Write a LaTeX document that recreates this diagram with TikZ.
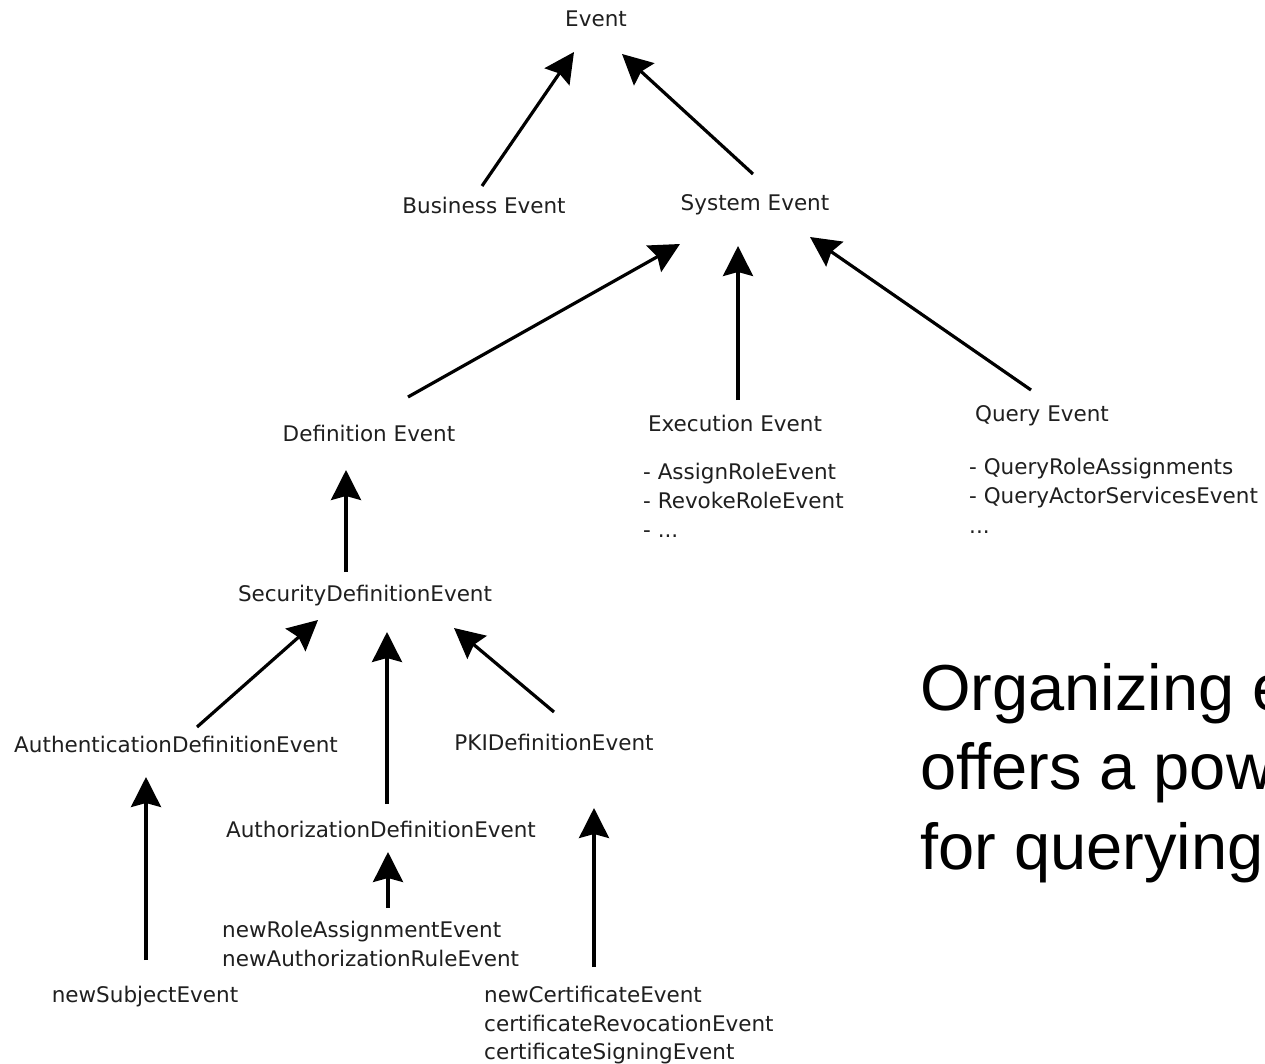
\documentclass[tikz,border=0pt]{standalone}
\usepackage{fontspec}
\setmainfont{DejaVu Sans}
\newfontfamily\diafont{DejaVu Sans}
\newfontfamily\notefont{Liberation Sans}
\usetikzlibrary{arrows.meta}

\begin{document}
\begin{tikzpicture}[x=1pt,y=-1pt,
  lbl/.style={inner sep=0pt, font=\diafont\fontsize{21.5}{29}\selectfont, text=black!88, anchor=base},
  lbll/.style={lbl, anchor=base west},
  note/.style={inner sep=0pt, anchor=base west, font=\notefont\fontsize{65}{80}\selectfont},
  isa/.style={line width=3.2pt, -{Stealth[length=30pt,width=30pt,inset=4pt]}}]
\fill[white] (0,0) rectangle (1265,1064);
\useasboundingbox (0,0) rectangle (1265,1064);

% class names
\node[lbl] (ev)    at (596,27)  {Event};
\node[lbl] (biz)   at (484,214) {Business Event};
\node[lbl] (sys)   at (755,211) {System Event};
\node[lbl] (def)   at (369,441.5) {Definition Event};
\node[lbl] (exe)   at (735,431) {Execution Event};
\node[lbl] (qry)   at (1042,421) {Query Event};
\node[lbl] (sec)   at (365,601) {SecurityDefinitionEvent};
\node[lbl] (authn) at (176,752) {AuthenticationDefinitionEvent};
\node[lbl] (pki)   at (554,750) {PKIDefinitionEvent};
\node[lbl] (authz) at (381,837) {AuthorizationDefinitionEvent};
\node[lbl] (nsub)  at (145,1002) {newSubjectEvent};

% member lists
\node[lbll] (exe1) at (643,479) {- AssignRoleEvent};
\node[lbll] (exe2) at (643,508) {- RevokeRoleEvent};
\node[lbll] (exe3) at (643,537) {- ...};
\node[lbll] (qry1) at (969,474) {- QueryRoleAssignments};
\node[lbll] (qry2) at (969,503) {- QueryActorServicesEvent};
\node[lbll] (qry3) at (969,533) {...};
\node[lbll] (role1) at (222,937) {newRoleAssignmentEvent};
\node[lbll] (role2) at (222,966) {newAuthorizationRuleEvent};
\node[lbll] (cert1) at (484,1002) {newCertificateEvent};
\node[lbll] (cert2) at (484,1031) {certificateRevocationEvent};
\node[lbll] (cert3) at (484,1059) {certificateSigningEvent};

% inheritance arrows (child -> parent)
\draw[isa] ([shift={(-2,-28)}]biz.base)   -- ([shift={(-22,25)}]ev.base);
\draw[isa] ([shift={(-2,-37)}]sys.base)   -- ([shift={(26,27)}]ev.base);
\draw[isa] ([shift={(39,-44.5)}]def.base) -- ([shift={(-75,33)}]sys.base);
\draw[isa] ([shift={(3,-31)}]exe.base)    -- ([shift={(-17,35)}]sys.base);
\draw[isa] ([shift={(-11,-31)}]qry.base)  -- ([shift={(55,26)}]sys.base);
\draw[isa] ([shift={(-19,-29)}]sec.base)  -- ([shift={(-23,28.5)}]def.base);
\draw[isa] ([shift={(21,-25)}]authn.base) -- ([shift={(-47,19)}]sec.base);
\draw[isa] ([shift={(6,-33)}]authz.base)  -- ([shift={(22,31)}]sec.base);
\draw[isa] ([shift={(0,-38)}]pki.base)    -- ([shift={(89,27)}]sec.base);
\draw[isa] ([shift={(1,-42)}]nsub.base)   -- ([shift={(-30,25)}]authn.base);
\draw[isa] ([shift={(166,-29)}]role1.base west) -- ([shift={(7,15)}]authz.base);
\draw[isa] ([shift={(110,-35)}]cert1.base west) -- ([shift={(40,58)}]pki.base);

% side note
\node[note] (n1) at (920,710) {Organizing e};
\node[note] (n2) at (920,789) {offers a pow};
\node[note] (n3) at (920,869) {for querying};
\end{tikzpicture}
\end{document}
